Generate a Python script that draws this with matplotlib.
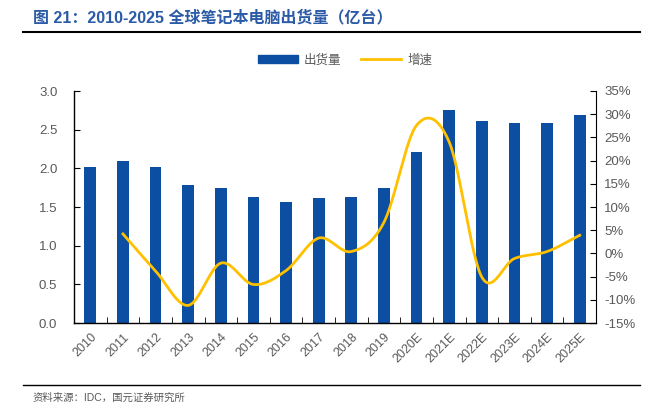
import numpy as np
import matplotlib
matplotlib.use("Agg")
import matplotlib.pyplot as plt
from matplotlib.lines import Line2D
from matplotlib.patches import Patch

plt.rcParams['font.family'] = ['Liberation Sans', 'Noto Sans CJK SC', 'DejaVu Sans']

categories = ["2010", "2011", "2012", "2013", "2014", "2015", "2016", "2017",
              "2018", "2019", "2020E", "2021E", "2022E", "2023E", "2024E", "2025E"]
shipments = [2.02, 2.10, 2.02, 1.79, 1.75, 1.63, 1.57, 1.62,
             1.63, 1.74, 2.21, 2.75, 2.61, 2.58, 2.59, 2.69]
growth = [None, 4.2, -3.8, -11.2, -2.1, -6.7, -3.7, 3.3,
          0.4, 6.7, 27.6, 24.0, -5.1, -1.1, 0.4, 3.9]

bar_color = "#0B4EA2"
line_color = "#FFC000"
gray = "#595959"

fig = plt.figure(figsize=(6.58, 4.15), dpi=100)
ax = fig.add_axes([74/658, 1-323/415, (596-74)/658, (323-91)/415])
x = np.arange(len(categories))
ax.bar(x, shipments, width=0.36, color=bar_color, zorder=2)
ax.set_xlim(-0.5, len(categories)-0.5)
ax.set_ylim(0, 3.0)
ax.set_yticks(np.arange(0, 3.01, 0.5))
ax.set_yticklabels([f"{v:.1f}" for v in np.arange(0, 3.01, 0.5)])
ax.set_xticks(x)
ax.set_xticklabels(categories, rotation=45, ha='right', rotation_mode='anchor')
ax.set_xticks(np.arange(-0.5, len(categories), 1), minor=True)
ax.tick_params(axis='x', which='major', length=0, pad=6, labelsize=9, labelcolor=gray)
ax.tick_params(axis='x', which='minor', length=4, direction='in', color='black')
ax.tick_params(axis='y', length=4, direction='in', labelsize=9.5, labelcolor=gray, pad=12)
ax.spines['top'].set_visible(False)
ax.spines['right'].set_visible(False)
for s in ['left', 'bottom']:
    ax.spines[s].set_color('black')
    ax.spines[s].set_linewidth(1.0)

ax2 = ax.twinx()
ax2.set_ylim(-15, 35)
ax2.set_yticks(np.arange(-15, 36, 5))
ax2.set_yticklabels([f"{v}%" for v in range(-15, 36, 5)])
ax2.tick_params(axis='y', length=4, direction='in', labelsize=9.5, labelcolor=gray, pad=6)
for s in ['top', 'left', 'bottom']:
    ax2.spines[s].set_visible(False)
ax2.spines['right'].set_color('black')

# smooth curve through data points (Catmull-Rom style rendering)
gx = np.array([i for i, g in enumerate(growth) if g is not None], dtype=float)
gy = np.array([g for g in growth if g is not None], dtype=float)
px = np.concatenate([[2*gx[0]-gx[1]], gx, [2*gx[-1]-gx[-2]]])
py = np.concatenate([[2*gy[0]-gy[1]], gy, [2*gy[-1]-gy[-2]]])
cx, cy = [], []
tension = 0.5
for i in range(1, len(px)-2):
    p0, p1, p2, p3 = np.array([px[i-1], py[i-1]]), np.array([px[i], py[i]]), np.array([px[i+1], py[i+1]]), np.array([px[i+2], py[i+2]])
    m1 = tension*(p2-p0)
    m2 = tension*(p3-p1)
    t = np.linspace(0, 1, 30)[:, None]
    h00 = 2*t**3-3*t**2+1; h10 = t**3-2*t**2+t; h01 = -2*t**3+3*t**2; h11 = t**3-t**2
    pts = h00*p1 + h10*m1 + h01*p2 + h11*m2
    cx.extend(pts[:, 0]); cy.extend(pts[:, 1])
ax2.plot(cx, cy, color=line_color, lw=2.0, zorder=3)

# legend
handles = [Patch(color=bar_color), Line2D([0], [0], color=line_color, lw=2)]
fig.legend(handles, ["出货量", "增速"], loc='center', bbox_to_anchor=(345/658, 1-60/415),
           ncol=2, frameon=False, handlelength=3.2, handleheight=0.6, handletextpad=0.5,
           columnspacing=1.6, labelcolor=gray,
           prop={'family': ['Noto Sans CJK SC'], 'size': 9})

# title & rules
fig.text(33/658, 1-18/415, "图 21：2010-2025 全球笔记本电脑出货量（亿台）", fontsize=11.5,
         fontweight='bold', color="#2B5AA6", va='center', ha='left',
         family=['Liberation Sans', 'Noto Sans CJK SC'])
fig.add_artist(Line2D([23/658, 640/658], [1-32/415, 1-32/415], color='black', lw=1.5))
fig.add_artist(Line2D([23/658, 640/658], [1-385/415, 1-385/415], color='black', lw=1.0))
fig.text(33/658, 1-398/415, "资料来源：IDC，国元证券研究所", fontsize=7.5, color=gray,
         va='center', ha='left', family=['Liberation Sans', 'Noto Sans CJK SC'])

fig.savefig("out.png", dpi=100)
